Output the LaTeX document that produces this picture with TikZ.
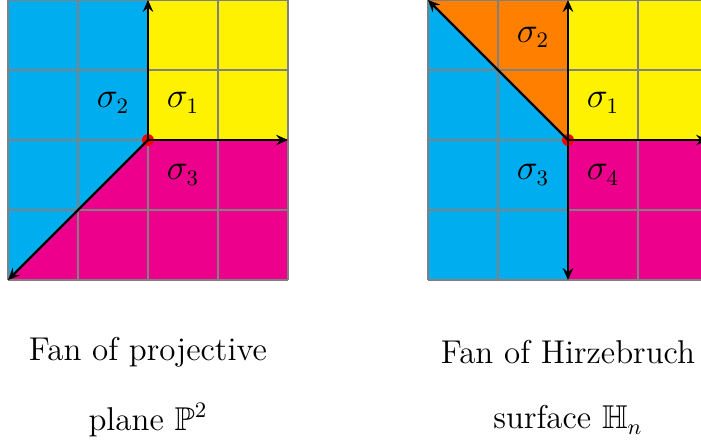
\documentclass[tikz,border=0pt]{standalone}
\usepackage{amssymb}
\usetikzlibrary{arrows.meta}
\definecolor{fcyan}{RGB}{0,174,239}
\definecolor{fyellow}{RGB}{255,242,0}
\definecolor{fmagenta}{RGB}{236,0,140}
\definecolor{forange}{RGB}{255,128,0}
\tikzset{
  gridline/.style={draw=gray,line width=0.45pt},
  ray/.style={-{Stealth[length=1.7mm,width=1.5mm,inset=0.6mm]},line width=1pt,black},
  lbl/.style={font=\fontsize{13.4}{16}\selectfont},
  origindot/.style={fill=red,circle,inner sep=0pt,minimum size=0.17cm}
}
\begin{document}
\begin{tikzpicture}
\useasboundingbox (-2.114,2.0) rectangle (7.9,-4.314);
\clip (-2.114,2.0) rectangle (7.9,-4.314);
% ---- left fan
\coordinate (O1) at (0,0);
\coordinate (e1) at (2,0);
\coordinate (e2) at (0,2);
\coordinate (e3) at (-2,-2);
\fill[fyellow] (O1) rectangle (2,2);
\fill[fcyan] (O1) -- (0,2) -- (-2,2) -- (-2,-2) -- cycle;
\fill[fmagenta] (O1) -- (-2,-2) -- (2,-2) -- (2,0) -- cycle;
\draw[gridline] (-2,-2) grid (2,2);
\node[origindot] (d1) at (O1) {};
\draw[ray] (O1) -- (e1);
\draw[ray] (O1) -- (e2);
\draw[ray] (O1) -- (e3);
\node[lbl] (s11) at (0.5,0.53) {$\sigma_1$};
\node[lbl] (s12) at (-0.5,0.53) {$\sigma_2$};
\node[lbl] (s13) at (0.5,-0.5) {$\sigma_3$};
\node[lbl] (t11) at (0,-3.03) {Fan of projective};
\node[lbl] (t12) at (0,-4.0) {plane $\mathbb{P}^2$};
% ---- right fan
\begin{scope}[xshift=6cm]
\coordinate (O2) at (0,0);
\coordinate (f1) at (2,0);
\coordinate (f2) at (0,2);
\coordinate (f3) at (-2,2);
\coordinate (f4) at (0,-2);
\fill[fyellow] (O2) rectangle (2,2);
\fill[forange] (O2) -- (-2,2) -- (0,2) -- cycle;
\fill[fcyan] (O2) -- (-2,2) -- (-2,-2) -- (0,-2) -- cycle;
\fill[fmagenta] (O2) rectangle (2,-2);
\draw[gridline] (-2,-2) grid (2,2);
\node[origindot] (d2) at (O2) {};
\draw[ray] (O2) -- (f1);
\draw[ray] (O2) -- (f2);
\draw[ray] (O2) -- (f3);
\draw[ray] (O2) -- (f4);
\node[lbl] (s21) at (0.5,0.53) {$\sigma_1$};
\node[lbl] (s22) at (-0.5,1.47) {$\sigma_2$};
\node[lbl] (s23) at (-0.5,-0.5) {$\sigma_3$};
\node[lbl] (s24) at (0.5,-0.5) {$\sigma_4$};
\node[lbl] (t21) at (0,-3.03) {Fan of Hirzebruch};
\node[lbl] (t22) at (0,-4.0) {surface $\mathbb{H}_n$};
\end{scope}
\end{tikzpicture}
\end{document}
